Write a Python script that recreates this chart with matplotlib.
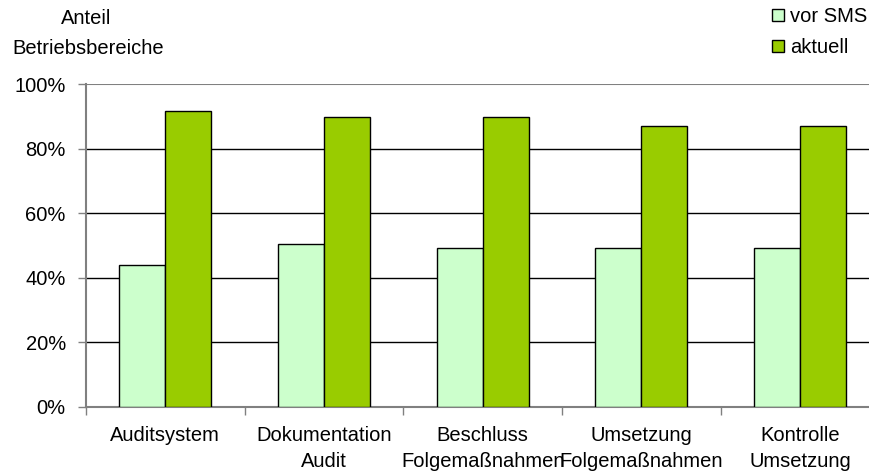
import matplotlib
matplotlib.use("Agg")
import matplotlib.pyplot as plt
import numpy as np
from matplotlib.patches import Patch

plt.rcParams['font.family'] = ['Liberation Sans', 'DejaVu Sans']

categories = ["Auditsystem", "Dokumentation\nAudit", "Beschluss\nFolgemaßnahmen",
              "Umsetzung\nFolgemaßnahmen", "Kontrolle\nUmsetzung"]
vor_sms = [44.1, 50.6, 49.3, 49.3, 49.3]
aktuell = [91.7, 89.9, 89.9, 86.9, 86.9]
series_labels = ["vor SMS", "aktuell"]
yticks = [0, 20, 40, 60, 80, 100]
ytick_labels = ["0%", "20%", "40%", "60%", "80%", "100%"]

FS = 14.5

fig = plt.figure(figsize=(8.69, 4.75), dpi=100)
ax = fig.add_axes([86/869, 68/475, (879.5-86)/869, (407-84)/475])

x = np.arange(len(categories))
w = 0.29
ax.bar(x - w/2, vor_sms, w, color="#CCFFCC", edgecolor="black", linewidth=1, zorder=3, label=series_labels[0])
ax.bar(x + w/2, aktuell, w, color="#99CC00", edgecolor="black", linewidth=1, zorder=3, label=series_labels[1])

ax.set_xlim(-0.5, len(categories) - 0.5)
ax.set_ylim(0, 100)
ax.set_yticks(yticks)
ax.set_yticklabels(ytick_labels, fontsize=FS)
for yv in yticks[1:-1]:
    ax.axhline(yv, color="black", linewidth=1, zorder=1)
ax.axhline(100, color="#808080", linewidth=1.5, zorder=1)

ax.set_xticks(np.arange(len(categories) + 1) - 0.5)
ax.set_xticklabels([])
ax.set_xticks(x, minor=True)
ax.set_xticklabels(categories, minor=True, fontsize=FS, linespacing=1.45)
ax.tick_params(axis="x", which="minor", length=0, pad=14)
ax.tick_params(axis="x", which="major", length=6, color="#808080", width=1)
ax.tick_params(axis="y", length=6, color="#808080", width=1, pad=8.5)

for s in ["top", "right"]:
    ax.spines[s].set_visible(False)
for s in ["left", "bottom"]:
    ax.spines[s].set_color("#808080")
    ax.spines[s].set_linewidth(1.5)

fig.text(86/869, 1 - 19/475, "Anteil", ha="center", va="center", fontsize=FS)
fig.text(88/869, 1 - 49/475, "Betriebsbereiche", ha="center", va="center", fontsize=FS)

handles = [Patch(facecolor="#CCFFCC", edgecolor="black", label=series_labels[0]),
           Patch(facecolor="#99CC00", edgecolor="black", label=series_labels[1])]
fig.legend(handles=handles, loc="upper left", bbox_to_anchor=(768/869, 1 - 3/475), frameon=False,
           fontsize=FS, handlelength=0.6, handleheight=0.6, handletextpad=0.3,
           labelspacing=0.6, borderaxespad=0, borderpad=0.2)

fig.savefig("out.png", dpi=100)
